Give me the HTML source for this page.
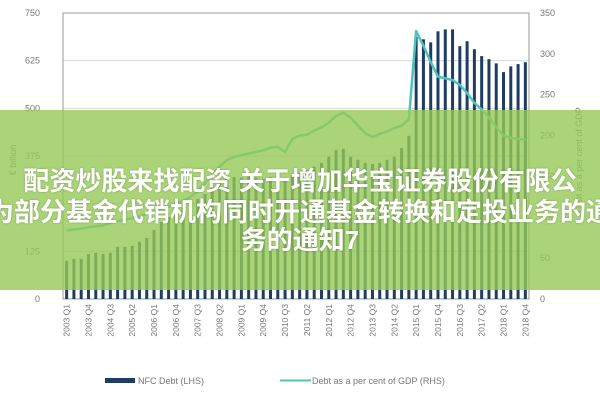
<!DOCTYPE html>
<html><head><meta charset="utf-8"><style>
body{margin:0;background:#fff;width:600px;height:400px;overflow:hidden;font-family:"Liberation Sans","Noto Sans CJK SC",sans-serif;}
#wrap{position:relative;width:600px;height:400px;}
.ov{position:absolute;left:0;top:110px;width:600px;height:180px;background:rgba(150,201,88,0.8);}
.t{position:absolute;left:-60px;width:720px;text-align:center;color:#fff;font-weight:bold;font-size:26px;line-height:30px;white-space:nowrap;font-family:"Liberation Sans","Noto Sans CJK SC",sans-serif;text-shadow:0 0 2px rgba(0,0,0,0.25);}
</style></head><body>
<div id="wrap">
<svg id="chart" width="600" height="400"></svg>
<div class="ov"></div>
<div class="t" style="top:166px">配资炒股来找配资 关于增加华宝证券股份有限公</div>
<div class="t" style="top:197px">为部分基金代销机构同时开通基金转换和定投业务的通</div>
<div class="t" style="top:225px">务的通知7</div>
</div>
<script>
const debt=[100,105,105,118,121,118,121,137,137,139,150,160,181,202,215,228,240,252,262,275,294,310,318,320,318,322,318,315,320,322,318,325,330,338,347,357,373,391,394,373,365,357,354,357,365,373,396,428,687,681,673,702,707,707,663,676,655,637,629,618,595,610,616,621];
const ratio=[84,85,86,88,89,90,93,95,97,99,101,104,107,110,113,117,120,125,132,142,152,162,170,174,176,178,180,182,185,186,180,196,200,201,206,210,216,224,228,222,212,203,198,202,205,209,212,220,328,310,290,272,270,268,262,252,240,232,222,210,200,197,196,195];
const leftTicks=[0,125,250,375,500,625,750];
const rightTicks=[0,50,100,150,200,250,300,350];
const ns="http://www.w3.org/2000/svg";
const svg=document.getElementById('chart');
const X0=63,X1=529,Y0=299,Y1=13;
const n=debt.length;
const step=(X1-X0)/n;
function xAt(i){return X0+step*(i+0.5);}
function yL(v){return Y0-(v/750)*(Y0-Y1);}
function yR(v){return Y0-(v/350)*(Y0-Y1);}
function mk(tag,attrs){const e=document.createElementNS(ns,tag);for(const k in attrs)e.setAttribute(k,attrs[k]);svg.appendChild(e);return e;}
leftTicks.forEach(v=>{
 const g=mk('line',{x1:X0,x2:X1,y1:yL(v),y2:yL(v),stroke:'#d8d8d8','stroke-width':1});
 
 
 const t=mk('text',{x:40,y:yL(v)+3,'text-anchor':'end','font-size':9,fill:'#777'});
 t.textContent=v;
 
 
});
rightTicks.forEach(v=>{
 const t=mk('text',{x:540,y:yR(v)+3,'font-size':9,fill:'#777'});
 t.textContent=v;
 
 
});
const bd=mk('rect',{x:X0,y:Y1,width:X1-X0,height:Y0-Y1,fill:'none',stroke:'#999','stroke-width':1});


debt.forEach((v,i)=>{
 const r=mk('rect',{x:xAt(i)-1.5,y:yL(v),width:3,height:Y0-yL(v),fill:'#1e3d63'});
 
 
});
const pts=ratio.map((v,i)=>xAt(i).toFixed(1)+','+yR(v).toFixed(1)).join(' ');
const pl=mk('polyline',{points:pts,fill:'none',stroke:'#4fc2bb','stroke-width':2.5,'stroke-linejoin':'round'});


const q=['Q1','Q2','Q3','Q4'];
for(let i=0;i<n;i+=3){
 const lab=(2003+Math.floor(i/4))+' '+q[i%4];
 const x=xAt(i)+3,y=304;
 const t=mk('text',{x:x,y:y,'font-size':8.5,fill:'#777','text-anchor':'end',transform:'rotate(-90 '+x+' '+y+')'});
 t.textContent=lab;
 
 
}
const yt=mk('text',{x:16,y:160,'font-size':9,fill:'#777','text-anchor':'middle',transform:'rotate(-90 16 160)'});
yt.textContent='€ billion';


const yt2=mk('text',{x:582,y:160,'font-size':9,fill:'#777','text-anchor':'middle',transform:'rotate(-90 582 160)'});
yt2.textContent='Debt as a per cent of GDP';


const l1=mk('rect',{x:105,y:378,width:30,height:5,fill:'#1e3d63'});


const lt1=mk('text',{x:138,y:384,'font-size':9,fill:'#777'});
lt1.textContent='NFC Debt (LHS)';


const l2=mk('line',{x1:280,x2:311,y1:380.5,y2:380.5,stroke:'#4fc2bb','stroke-width':2});


const lt2=mk('text',{x:312,y:384,'font-size':9,fill:'#777'});
lt2.textContent='Debt as a per cent of GDP (RHS)';


</script>
</body></html>
